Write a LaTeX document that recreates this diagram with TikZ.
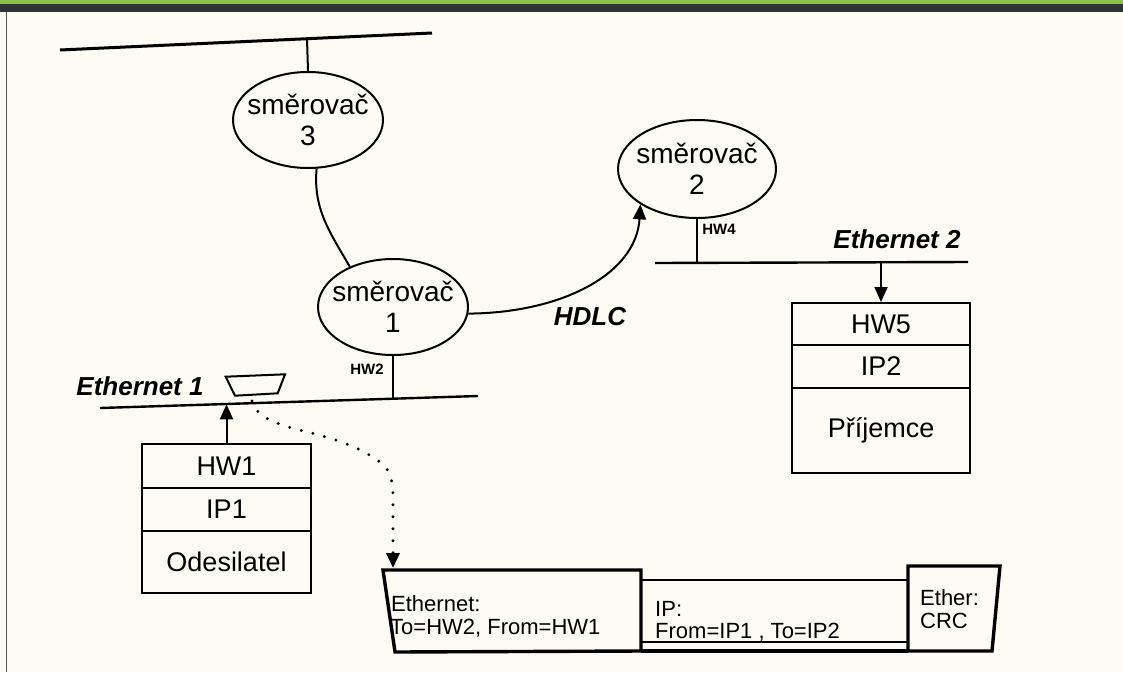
\documentclass[tikz,border=0pt]{standalone}
\usepackage{fontspec}
\setmainfont{Liberation Sans}
\usetikzlibrary{shapes.geometric,arrows.meta,calc}
\definecolor{paper}{HTML}{FCFCF4}
\definecolor{barGreen}{HTML}{8BC34A}
\definecolor{barDark}{HTML}{2F3436}
\definecolor{edgeGray}{HTML}{5A5A5A}

\begin{document}
\begin{tikzpicture}[x=1pt,y=-1pt,
  router/.style={draw,ellipse,line width=2pt,inner xsep=-15pt,inner ysep=0pt,align=center,
    font=\fontsize{28}{31}\selectfont},
  hostcell/.style={draw,rectangle,line width=2pt,inner sep=0pt,
    font=\fontsize{27}{31}\selectfont},
  netlabel/.style={font=\fontsize{26}{30}\selectfont\bfseries\itshape},
  portlabel/.style={font=\fontsize{15}{17}\selectfont\bfseries,inner sep=0pt},
  busline/.style={line width=2.4pt},
  wireline/.style={line width=2pt},
  arrowtip/.style={-{Triangle[length=15pt,width=13pt]}},
  frameline/.style={line width=3.4pt,line join=miter},
  frametext/.style={font=\fontsize{22}{26}\selectfont,anchor=west,inner sep=0pt},
]

% page background, header bar and left edge
\useasboundingbox (0,0) rectangle (1123,672);
\fill[paper] (0,0) rectangle (1123,672);
\fill[barDark] (0,0) rectangle (1123,12);
\fill[barGreen] (0,0) rectangle (1123,3.5);
\draw[edgeGray,line width=1.5pt] (6.5,12) -- (6.5,672);

% routers
\node[router,minimum width=150pt,minimum height=96pt] (r3) at (308,120) {směrovač\\3};
\node[router,minimum width=150pt,minimum height=96pt] (r1) at (393,307) {směrovač\\1};
\node[router,minimum width=158pt,minimum height=98pt] (r2) at (697,169) {směrovač\\2};

% upper network
\coordinate (topL) at (60,50);
\coordinate (topR) at (432,33);
\coordinate (topTap) at (307,38.7);
\draw[busline,line width=3pt] (topL) -- (topR);
\draw[wireline] (topTap) -- (r3.north);

% router 3 -- router 1
\draw[wireline] (r3.-80) to[out=-95,in=120] (r1.137);

% Ethernet 1
\coordinate (e1L) at (100,408);
\coordinate (e1R) at (478,396);
\coordinate (e1Tap) at (393,398.7);
\coordinate (e1Arr) at (226.5,404.3);
\draw[busline] (e1L) -- (e1R);
\draw[wireline] (r1.south) -- (e1Tap);
\node[portlabel] (hw2lbl) at (367,369) {HW2};
\node[netlabel] (eth1lbl) at (140,386) {Ethernet 1};

% frame on the wire
\draw[wireline] (225.7,376.7) -- (285,374.3) -- (277.7,393.3) -- (235,395.7) -- cycle;
\coordinate (pkt) at (252,401);

% sender
\node[hostcell,minimum width=169pt,minimum height=44pt] (hw1) at (226.5,466) {HW1};
\node[hostcell,minimum width=169pt,minimum height=43pt] (ip1) at (226.5,509.5) {IP1};
\node[hostcell,minimum width=169pt,minimum height=62pt] (snd) at (226.5,562) {Odesilatel};
\draw[wireline,arrowtip] (hw1.north) -- (e1Arr);

% HDLC link
\draw[wireline,arrowtip] (r1.-5) .. controls (560,313) and (636,275) .. (r2.212);
\node[netlabel] (hdlc) at (590,317) {HDLC};

% Ethernet 2
\coordinate (e2L) at (655,263);
\coordinate (e2R) at (968,262);
\coordinate (e2Tap) at (697,262.9);
\coordinate (e2Arr) at (881,262.3);
\draw[busline] (e2L) -- (e2R);
\draw[wireline] (r2.south) -- (e2Tap);
\node[portlabel] (hw4lbl) at (719,229) {HW4};
\node[netlabel] (eth2lbl) at (897,239) {Ethernet 2};

% receiver
\node[hostcell,minimum width=178pt,minimum height=42pt] (hw5) at (881,324) {HW5};
\node[hostcell,minimum width=178pt,minimum height=43pt] (ip2) at (881,366.5) {IP2};
\node[hostcell,minimum width=178pt,minimum height=85pt] (rcv) at (881,430.5) {Příjemce};
\draw[wireline,arrowtip] (e2Arr) -- (hw5.north);

% frame layout
\coordinate (frm) at (393,568);
\draw[frameline] (383,570) -- (641,570) -- (641,651) -- (395,652) -- cycle;
\draw[line width=2.2pt] (641,580) -- (908,580);
\draw[line width=2.2pt] (641,642) -- (908,642);
\draw[frameline] (641,651) -- (908,651);
\draw[frameline] (908,651) -- (908,566) -- (1000,566) -- (992,651) -- cycle;
\node[frametext] (ethhdr) at (391,604) {Ethernet:};
\node[frametext] (ethaddr) at (390,628) {To=HW2, From=HW1};
\node[frametext] (iphdr) at (655,609) {IP:};
\node[frametext] (ipaddr) at (655,632) {From=IP1 , To=IP2};
\node[frametext] (crchdr) at (920,598) {Ether:};
\node[frametext] (crcval) at (920,621) {CRC};

% frame taken off the wire
\draw[line width=3.2pt,line cap=round,dash pattern=on 0pt off 12pt,arrowtip]
  (pkt) .. controls (262,435) and (330,425) .. (380,462)
        .. controls (392,472) and (393,482) .. (393,500) -- (frm);

\end{tikzpicture}
\end{document}
